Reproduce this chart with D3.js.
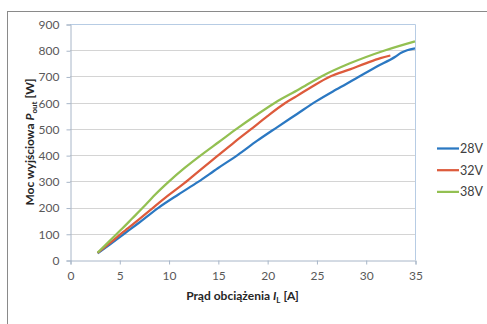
<!DOCTYPE html>
<html lang="pl">
<head>
    <meta charset="UTF-8">
    <title>Moc wyjściowa</title>
    <script src="https://cdnjs.cloudflare.com/ajax/libs/d3/7.8.5/d3.min.js"></script>
    <style>
        * { margin: 0; padding: 0; box-sizing: border-box; }
        body { background: #fff; width: 487px; height: 324px; overflow: hidden; font-family: Lato, 'Liberation Sans', sans-serif; }
        .tick text { fill: #595959; font-size: 12px; }
    </style>
</head>
<body>
    <div id="chart"></div>
    <script>
        // current [A] and output power [W] for each supply voltage
        const current28 = [2.8, 4, 5.6, 7, 9, 11, 13, 15, 17, 19, 21, 23, 25, 27, 29, 31, 33, 33.6, 34.2, 35];
        const power28   = [25, 58, 103, 142, 200, 250, 298, 350, 400, 455, 506, 556, 606, 650, 692, 735, 775, 790, 800, 807];

        const current32 = [2.8, 4, 5.4, 7, 8.45, 10, 11.6, 13.2, 14.9, 16.6, 18.3, 20, 21.8, 23, 24.5, 26.4, 28.4, 30, 31.5, 32.5];
        const power32   = [27, 63, 107, 155, 200, 247, 293, 343, 395, 447, 497, 548, 598, 625, 660, 700, 727, 750, 770, 780];

        const current38 = [2.8, 4, 5.25, 6.3, 7.35, 8.6, 10, 11.6, 13.3, 15.1, 16.9, 18.8, 20.8, 23.2, 25.5, 28.4, 32, 35];
        const power38   = [28, 72, 118, 158, 198, 248, 298, 350, 400, 450, 500, 550, 600, 650, 700, 750, 800, 834];

        const seriesNames = ['28V', '32V', '38V'];
        const seriesColors = ['#2b78c2', '#dd5b3c', '#93c052'];
        const xTicks = [0, 5, 10, 15, 20, 25, 30, 35];
        const yTicks = [0, 100, 200, 300, 400, 500, 600, 700, 800, 900];

        const series = [
            current28.map((c, i) => [c, power28[i]]),
            current32.map((c, i) => [c, power32[i]]),
            current38.map((c, i) => [c, power38[i]])
        ];

        const width = 487, height = 324;
        const plot = { left: 70, top: 24, right: 415, bottom: 260 };

        const svg = d3.select('#chart').append('svg')
            .attr('width', width)
            .attr('height', height);

        // outer chart frame (runs off the right and bottom edges)
        svg.append('rect')
            .attr('x', 7.5).attr('y', 11.5)
            .attr('width', 500).attr('height', 340)
            .attr('fill', 'none')
            .attr('stroke', '#8a8a8a');

        const x = d3.scaleLinear().domain([0, 35]).range([plot.left, plot.right]);
        const y = d3.scaleLinear().domain([0, 900]).range([plot.bottom, plot.top]);

        // gridlines
        svg.append('g')
            .selectAll('line')
            .data(yTicks.slice(1, -1))
            .enter().append('line')
            .attr('x1', plot.left).attr('x2', plot.right)
            .attr('y1', d => Math.round(y(d)) + 0.5)
            .attr('y2', d => Math.round(y(d)) + 0.5)
            .attr('stroke', '#d4d4d4');

        // plot area border (top/right)
        svg.append('path')
            .attr('d', `M${plot.left},${Math.round(y(900)) + 0.5}H${Math.round(x(35)) + 0.5}V${plot.bottom}`)
            .attr('fill', 'none')
            .attr('stroke', '#b7cce4');

        const xAxis = svg.append('g')
            .attr('transform', `translate(0.5,${plot.bottom + 0.5})`)
            .call(d3.axisBottom(x).tickValues(xTicks).tickSize(4).tickPadding(7));
        const yAxis = svg.append('g')
            .attr('transform', `translate(${plot.left + 0.5},0.5)`)
            .call(d3.axisLeft(y).tickValues(yTicks).tickSize(4).tickPadding(7));

        [xAxis, yAxis].forEach(a => {
            a.select('.domain').attr('stroke', '#a8b6c8');
            a.selectAll('.tick line').attr('stroke', '#a8b6c8');
            a.selectAll('.tick text').attr('font-family', "Lato, 'Liberation Sans', sans-serif");
        });

        // series lines
        const line = d3.line()
            .x(d => x(d[0]))
            .y(d => y(d[1]))
            .curve(d3.curveMonotoneX);

        svg.append('g')
            .selectAll('path')
            .data(series)
            .enter().append('path')
            .attr('d', line)
            .attr('fill', 'none')
            .attr('stroke', (d, i) => seriesColors[i])
            .attr('stroke-width', 2.25)
            .attr('stroke-linejoin', 'round');

        // legend
        const legend = svg.append('g')
            .selectAll('g')
            .data(seriesNames)
            .enter().append('g')
            .attr('transform', (d, i) => `translate(437,${148.5 + i * 21.7})`);
        legend.append('line')
            .attr('x1', 0).attr('x2', 22)
            .attr('stroke', (d, i) => seriesColors[i])
            .attr('stroke-width', 2.25);
        legend.append('text')
            .attr('x', 23).attr('dy', '0.35em')
            .attr('font-size', 12.5)
            .attr('fill', '#404040')
            .text(d => d);

        // axis titles
        const xTitle = svg.append('text')
            .attr('x', (plot.left + plot.right) / 2)
            .attr('y', 300)
            .attr('text-anchor', 'middle')
            .attr('font-size', 12)
            .attr('font-weight', 'bold')
            .attr('fill', '#262626');
        xTitle.append('tspan').text('Prąd obciążenia ');
        xTitle.append('tspan').attr('font-style', 'italic').text('I');
        xTitle.append('tspan').attr('font-size', 8).attr('dy', 3).text('L');
        xTitle.append('tspan').attr('dy', -3).text(' [A]');

        const yTitle = svg.append('text')
            .attr('transform', `translate(34,${(plot.top + plot.bottom) / 2}) rotate(-90)`)
            .attr('text-anchor', 'middle')
            .attr('font-size', 12)
            .attr('font-weight', 'bold')
            .attr('fill', '#262626');
        yTitle.append('tspan').text('Moc wyjściowa ');
        yTitle.append('tspan').attr('font-style', 'italic').text('P');
        yTitle.append('tspan').attr('font-size', 8).attr('dy', 3).text('out');
        yTitle.append('tspan').attr('dy', -3).text(' [W]');
    </script>
</body>
</html>
